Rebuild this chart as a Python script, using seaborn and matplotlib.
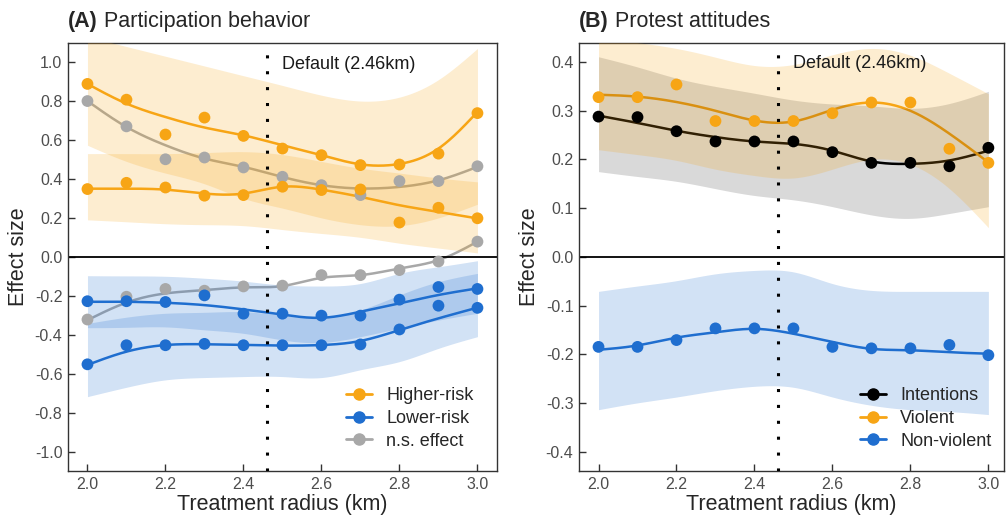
import numpy as np
import matplotlib
matplotlib.use("Agg")
import matplotlib.pyplot as plt
from matplotlib.lines import Line2D
import seaborn as sns

# ---------------------------------------------------------------
# Data
# ---------------------------------------------------------------
radius = [2.0, 2.1, 2.2, 2.3, 2.4, 2.5, 2.6, 2.7, 2.8, 2.9, 3.0]
default_radius = 2.46

# (A) Participation behavior -- higher-risk, first estimate
hi_a_pts = [0.888, 0.807, 0.628, 0.715, 0.621, 0.556, 0.522, 0.471, 0.474, 0.530, 0.738]
hi_a_fit = [0.888, 0.787, 0.718, 0.664, 0.624, 0.573, 0.522, 0.475, 0.477, 0.556, 0.744]
hi_a_lo = [0.573, 0.49, 0.43, 0.375, 0.30, 0.25, 0.20, 0.165, 0.16, 0.20, 0.27]
hi_a_hi = [1.13, 1.08, 1.03, 0.98, 0.93, 0.88, 0.83, 0.80, 0.82, 0.91, 1.07]

# higher-risk, second estimate
hi_b_pts = [0.348, 0.380, 0.356, 0.314, 0.317, 0.360, 0.343, 0.346, 0.176, 0.252, 0.198]
hi_b_fit = [0.35, 0.35, 0.345, 0.325, 0.325, 0.36, 0.345, 0.308, 0.265, 0.231, 0.197]
hi_b_lo = [0.19, 0.18, 0.17, 0.165, 0.16, 0.14, 0.12, 0.10, 0.07, 0.045, 0.02]
hi_b_hi = [0.53, 0.53, 0.53, 0.535, 0.54, 0.525, 0.49, 0.455, 0.43, 0.405, 0.385]

# n.s. effects (no bands)
ns_a_pts = [0.80, 0.670, 0.501, 0.510, 0.459, 0.411, 0.368, 0.317, 0.389, 0.389, 0.465]
ns_a_fit = [0.80, 0.667, 0.573, 0.505, 0.462, 0.41, 0.368, 0.351, 0.359, 0.393, 0.462]
ns_b_pts = [-0.322, -0.205, -0.165, -0.174, -0.152, -0.148, -0.094, -0.094, -0.068, -0.024, 0.078]
ns_b_fit = [-0.325, -0.235, -0.188, -0.171, -0.157, -0.15, -0.108, -0.094, -0.06, -0.017, 0.078]

# lower-risk estimates
lo_a_pts = [-0.228, -0.228, -0.232, -0.198, -0.292, -0.292, -0.302, -0.302, -0.220, -0.155, -0.165]
lo_a_fit = [-0.231, -0.231, -0.236, -0.248, -0.27, -0.297, -0.313, -0.282, -0.239, -0.196, -0.162]
lo_a_lo = [-0.364, -0.362, -0.36, -0.375, -0.393, -0.427, -0.44, -0.41, -0.367, -0.325, -0.29]
lo_a_hi = [-0.097, -0.098, -0.10, -0.11, -0.125, -0.145, -0.15, -0.137, -0.085, -0.051, -0.02]

lo_b_pts = [-0.552, -0.454, -0.454, -0.447, -0.454, -0.454, -0.454, -0.450, -0.373, -0.251, -0.262]
lo_b_fit = [-0.555, -0.487, -0.453, -0.449, -0.453, -0.456, -0.453, -0.432, -0.376, -0.316, -0.261]
lo_b_lo = [-0.718, -0.67, -0.632, -0.62, -0.615, -0.615, -0.62, -0.58, -0.538, -0.47, -0.41]
lo_b_hi = [-0.342, -0.31, -0.29, -0.285, -0.282, -0.30, -0.31, -0.273, -0.196, -0.128, -0.085]

# (B) Protest attitudes
int_pts = [0.288, 0.287, 0.258, 0.237, 0.237, 0.237, 0.215, 0.193, 0.193, 0.186, 0.224]
int_fit = [0.29, 0.275, 0.259, 0.246, 0.237, 0.232, 0.218, 0.196, 0.191, 0.198, 0.218]
int_lo = [0.175, 0.165, 0.155, 0.14, 0.126, 0.117, 0.103, 0.086, 0.079, 0.089, 0.103]
int_hi = [0.411, 0.39, 0.367, 0.35, 0.336, 0.322, 0.314, 0.31, 0.305, 0.315, 0.34]

vio_pts = [0.328, 0.328, 0.354, 0.279, 0.279, 0.279, 0.295, 0.317, 0.317, 0.222, 0.193]
vio_fit = [0.333, 0.329, 0.318, 0.30, 0.28, 0.278, 0.302, 0.317, 0.30, 0.253, 0.194]
vio_lo = [0.22, 0.21, 0.198, 0.18, 0.167, 0.162, 0.18, 0.20, 0.19, 0.14, 0.06]
vio_hi = [0.45, 0.44, 0.428, 0.41, 0.393, 0.395, 0.415, 0.428, 0.414, 0.377, 0.335]

non_pts = [-0.185, -0.185, -0.171, -0.147, -0.147, -0.147, -0.185, -0.188, -0.188, -0.181, -0.202]
non_fit = [-0.191, -0.182, -0.166, -0.155, -0.148, -0.158, -0.175, -0.189, -0.192, -0.196, -0.199]
non_lo = [-0.314, -0.30, -0.288, -0.275, -0.266, -0.268, -0.288, -0.305, -0.314, -0.318, -0.324]
non_hi = [-0.071, -0.06, -0.049, -0.035, -0.028, -0.031, -0.055, -0.069, -0.071, -0.071, -0.071]

x_ticks = [2.0, 2.2, 2.4, 2.6, 2.8, 3.0]
y_ticks_a = [-1.0, -0.8, -0.6, -0.4, -0.2, 0.0, 0.2, 0.4, 0.6, 0.8, 1.0]
y_ticks_b = [-0.4, -0.3, -0.2, -0.1, 0.0, 0.1, 0.2, 0.3, 0.4]

ORANGE = "#F7A515"
BLUE = "#1F6ECF"
GRAY = "#A8A8A8"
BLACK = "#000000"


def spline(xs, ys, n=300):
    """Natural cubic spline through the read-off fit values (for drawing)."""
    x = np.asarray(xs, float)
    y = np.asarray(ys, float)
    h = np.diff(x)
    k = len(x)
    A = np.zeros((k, k))
    r = np.zeros(k)
    A[0, 0] = A[-1, -1] = 1
    for i in range(1, k - 1):
        A[i, i - 1] = h[i - 1]
        A[i, i] = 2 * (h[i - 1] + h[i])
        A[i, i + 1] = h[i]
        r[i] = 6 * ((y[i + 1] - y[i]) / h[i] - (y[i] - y[i - 1]) / h[i - 1])
    M = np.linalg.solve(A, r)
    xx = np.linspace(x[0], x[-1], n)
    idx = np.clip(np.searchsorted(x, xx) - 1, 0, k - 2)
    t0 = xx - x[idx]
    t1 = x[idx + 1] - xx
    hh = h[idx]
    yy = (M[idx] * t1 ** 3 / (6 * hh) + M[idx + 1] * t0 ** 3 / (6 * hh)
          + (y[idx] / hh - M[idx] * hh / 6) * t1
          + (y[idx + 1] / hh - M[idx + 1] * hh / 6) * t0)
    return xx, yy


def draw_line(ax, fit, color):
    xx, yy = spline(radius, fit)
    sns.lineplot(x=xx, y=yy, color=color, linewidth=1.8, ax=ax, zorder=2)


def draw_band(ax, lo, hi, color, alpha=0.2):
    xx, ylo = spline(radius, lo)
    _, yhi = spline(radius, hi)
    ax.fill_between(xx, ylo, yhi, color=color, alpha=alpha, linewidth=0, zorder=3)


def draw_points(ax, pts, color):
    sns.scatterplot(x=radius, y=pts, color=color, s=72, edgecolor="none",
                    linewidth=0, ax=ax, zorder=4, legend=False)


sns.set_style("ticks")
plt.rcParams["font.family"] = ["Liberation Sans", "DejaVu Sans"]
plt.rcParams["axes.unicode_minus"] = False

fig = plt.figure(figsize=(10.07, 5.18), dpi=100)
ax1 = fig.add_axes([0.0675, 0.0907, 0.426, 0.827])
ax2 = fig.add_axes([0.575, 0.0907, 0.422, 0.827])

# ---------------- Panel A ----------------
for fit, c in [(ns_a_fit, GRAY), (ns_b_fit, GRAY), (hi_a_fit, ORANGE), (hi_b_fit, ORANGE),
               (lo_a_fit, BLUE), (lo_b_fit, BLUE)]:
    draw_line(ax1, fit, c)
for lo, hi, c in [(hi_a_lo, hi_a_hi, ORANGE), (hi_b_lo, hi_b_hi, ORANGE),
                  (lo_a_lo, lo_a_hi, BLUE), (lo_b_lo, lo_b_hi, BLUE)]:
    draw_band(ax1, lo, hi, c)
for pts, c in [(ns_a_pts, GRAY), (ns_b_pts, GRAY), (hi_a_pts, ORANGE), (hi_b_pts, ORANGE),
               (lo_a_pts, BLUE), (lo_b_pts, BLUE)]:
    draw_points(ax1, pts, c)

ax1.set_xlim(1.95, 3.05)
ax1.set_ylim(-1.1, 1.1)
ax1.set_yticks(y_ticks_a)
ax1.set_yticklabels([f"{v:.1f}" for v in y_ticks_a])

# ---------------- Panel B ----------------
for fit, c in [(int_fit, BLACK), (vio_fit, ORANGE), (non_fit, BLUE)]:
    draw_line(ax2, fit, c)
draw_band(ax2, int_lo, int_hi, BLACK, alpha=0.15)
draw_band(ax2, vio_lo, vio_hi, ORANGE)
draw_band(ax2, non_lo, non_hi, BLUE)
for pts, c in [(int_pts, BLACK), (vio_pts, ORANGE), (non_pts, BLUE)]:
    draw_points(ax2, pts, c)

ax2.set_xlim(1.95, 3.04)
ax2.set_ylim(-0.44, 0.44)
ax2.set_yticks(y_ticks_b)
ax2.set_yticklabels([f"{v:.1f}" for v in y_ticks_b])

# ---------------- Shared styling ----------------
panels = [
    (ax1, "(A)", " Participation behavior", 0.99,
     ["Higher-risk", "Lower-risk", "n.s. effect"], [ORANGE, BLUE, GRAY], (0.975, 0.02)),
    (ax2, "(B)", " Protest attitudes", 0.397,
     ["Intentions", "Violent", "Non-violent"], [BLACK, ORANGE, BLUE], (1.0, 0.02)),
]
for ax, tag, title, ytxt, labels, colors, anchor in panels:
    ax.axhline(0, color="black", linewidth=1.3, zorder=2.5)
    ax.axvline(default_radius, color="black", linewidth=2.2,
               linestyle=(0, (1, 4.2)), zorder=5)
    ax.text(2.50, ytxt, "Default (2.46km)", fontsize=13, va="center", ha="left",
            color="#1a1a1a", zorder=6)

    ax.set_xticks(x_ticks)
    ax.set_xticklabels([f"{v:.1f}" for v in x_ticks])
    ax.tick_params(direction="in", length=5, width=1, color="#333333",
                   labelcolor="#4d4d4d", labelsize=11.5, pad=4)
    for sp in ax.spines.values():
        sp.set_visible(True)
        sp.set_color("#333333")
        sp.set_linewidth(1.0)

    ax.set_xlabel("Treatment radius (km)", fontsize=15.5, labelpad=2)
    ax.set_ylabel("Effect size", fontsize=15.5, labelpad=4)

    t = ax.text(0.0, 1.037, tag, transform=ax.transAxes, fontsize=15.5,
                fontweight="bold", va="baseline", ha="left")
    ax.annotate(title, xy=(1, 0), xycoords=t, va="bottom", ha="left", fontsize=15.5)

    handles = [Line2D([], [], color=c, marker="o", linewidth=2, markersize=8)
               for c in colors]
    ax.legend(handles, labels, loc="lower right", bbox_to_anchor=anchor,
              frameon=False, fontsize=13, handlelength=1.4, handletextpad=0.8,
              labelspacing=0.32, borderaxespad=0.3)

fig.savefig("out.png", dpi=100)
